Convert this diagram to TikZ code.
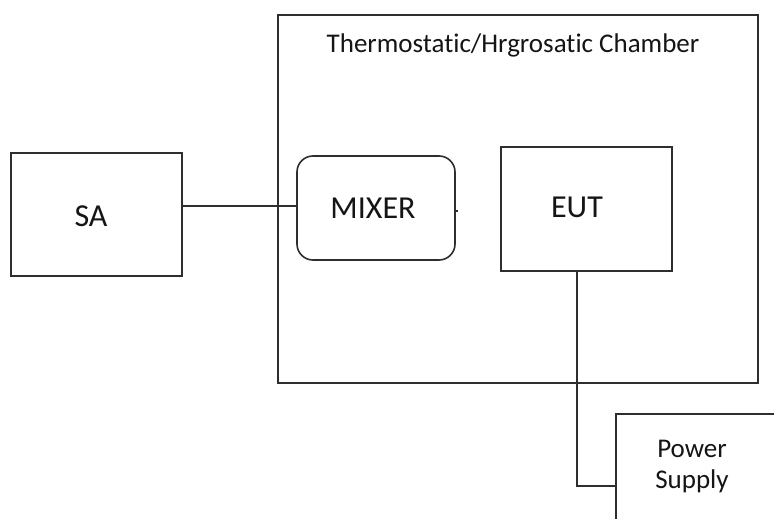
\documentclass[tikz,border=0pt]{standalone}
\usepackage{fontspec}
\setmainfont{Carlito}[Ligatures=NoCommon]
\definecolor{linec}{HTML}{2E2E2E}
\definecolor{textc}{HTML}{151515}
\begin{document}
\begin{tikzpicture}[x=1pt,y=-1pt,
  box/.style={draw=linec,line width=1.6pt,rectangle,inner sep=0pt},
  rbox/.style={box,rounded corners=16pt},
  big/.style={font=\fontsize{32}{38}\selectfont,text=textc,anchor=base,inner sep=0pt},
  small/.style={font=\fontsize{27}{31}\selectfont,text=textc,anchor=base,inner sep=0pt},
  wire/.style={draw=linec,line width=1.6pt}]
\fill[white] (0,0) rectangle (774,519);
\useasboundingbox (0,0) rectangle (774,519);
\clip (0,0) rectangle (774,519);
% chamber
\node[box,minimum width=480pt,minimum height=368pt] (chamber) at (518,199) {};
\node[small] (title) at (513,53) {Thermostatic/Hrgrosatic Chamber};
% SA
\node[box,minimum width=171pt,minimum height=123pt] (sa) at (96.5,214.5) {};
\node[big] (satext) at (91,226) {SA};
% mixer
\node[rbox,minimum width=158pt,minimum height=104pt] (mixer) at (376,208) {};
\node[big] (mixertext) at (373,218) {MIXER};
% EUT
\node[box,minimum width=171pt,minimum height=124pt] (eut) at (586.5,209) {};
\node[big] (euttext) at (577,217) {EUT};
% power supply (cut by the picture's edge)
\node[box,minimum width=200pt,minimum height=140pt,anchor=north west] (ps) at (615,413) {};
\node[small] (pstext1) at (692,457) {Power};
\node[small] (pstext2) at (692,488) {Supply};
% connectors
\coordinate (cx) at (577,0);
\coordinate (cy) at (0,486);
\coordinate (wy) at (0,206);
\coordinate (stub) at (458,211);
\draw[wire] (sa.east |- wy) -- (mixer.west |- wy);
\draw[wire] (mixer.east |- stub) -- (stub);
\draw[wire] (eut.south -| cx) |- (ps.west |- cy);
\end{tikzpicture}
\end{document}
